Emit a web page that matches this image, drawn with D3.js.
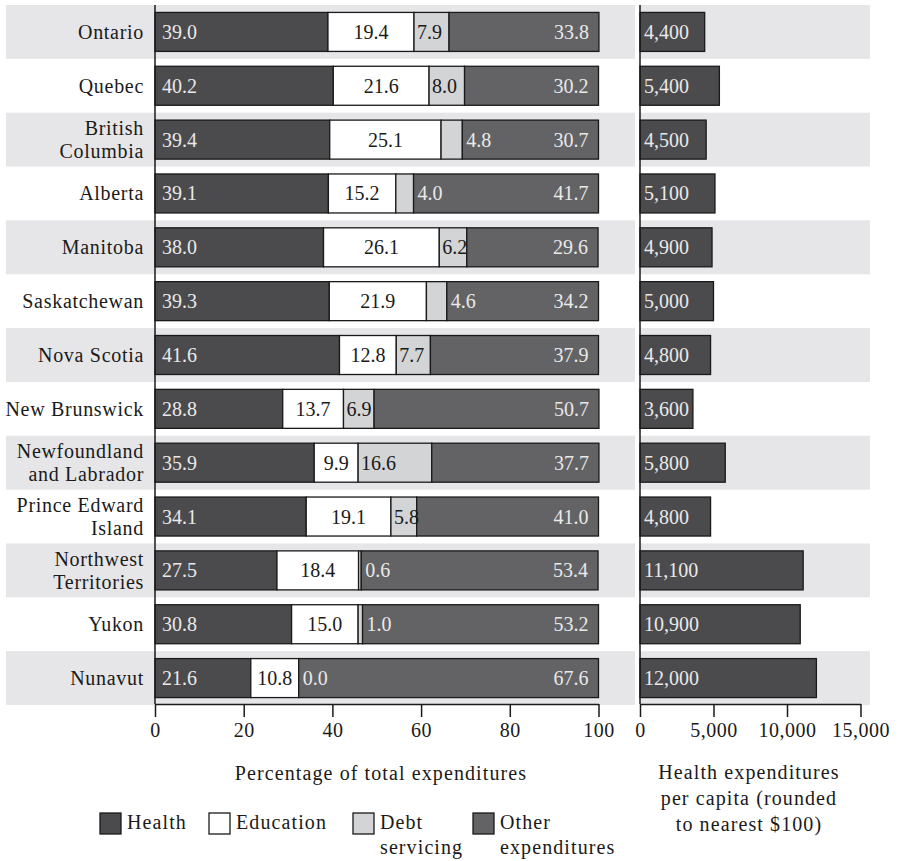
<!DOCTYPE html>
<html><head><meta charset="utf-8">
<script src="https://cdn.jsdelivr.net/npm/d3@7"></script>
<style>
body{margin:0;background:#fff}
svg text{font-family:"Liberation Serif","Times New Roman",serif;font-size:20px;fill:#1a1a1a}
svg text.word{letter-spacing:1.1px}
svg text.row{letter-spacing:0.7px}
svg .tick text{letter-spacing:0.5px}
</style></head><body>
<svg id="chart" width="898" height="861"></svg>
<script>
// Provincial spending shares (percent) and health spending per capita
const categories = ["Ontario","Quebec","British Columbia","Alberta","Manitoba","Saskatchewan","Nova Scotia","New Brunswick","Newfoundland and Labrador","Prince Edward Island","Northwest Territories","Yukon","Nunavut"];
const categoryLines = [["Ontario"],["Quebec"],["British","Columbia"],["Alberta"],["Manitoba"],["Saskatchewan"],["Nova Scotia"],["New Brunswick"],["Newfoundland","and Labrador"],["Prince Edward","Island"],["Northwest","Territories"],["Yukon"],["Nunavut"]];
const health    = [39.0,40.2,39.4,39.1,38.0,39.3,41.6,28.8,35.9,34.1,27.5,30.8,21.6];
const education = [19.4,21.6,25.1,15.2,26.1,21.9,12.8,13.7,9.9,19.1,18.4,15.0,10.8];
const debt      = [7.9,8.0,4.8,4.0,6.2,4.6,7.7,6.9,16.6,5.8,0.6,1.0,0.0];
const other     = [33.8,30.2,30.7,41.7,29.6,34.2,37.9,50.7,37.7,41.0,53.4,53.2,67.6];
const perCapita = [4400,5400,4500,5100,4900,5000,4800,3600,5800,4800,11100,10900,12000];
const pctTicks = [0,20,40,60,80,100];
const capTicks = [0,5000,10000,15000];
const seriesKeys = ["Health","Education","Debt servicing","Other expenditures"];
const legendLines = [["Health"],["Education"],["Debt","servicing"],["Other","expenditures"]];

const colors = {"Health":"#4b4b4d","Education":"#ffffff","Debt servicing":"#d3d4d6","Other expenditures":"#636365"};
const bandFill = "#e6e6e8";
const ink = "#1a1a1a", lightInk = "#e9e9e9";

const svg = d3.select("#chart");
const rows = categories.map((c,i)=>({name:c, lines:categoryLines[i],
  "Health":health[i],"Education":education[i],"Debt servicing":debt[i],"Other expenditures":other[i],
  perCapita:perCapita[i]}));

const y = d3.scaleBand().domain(categories).range([5,705]).paddingInner(0);
const barH = 39;
const x = d3.scaleLinear().domain([0,100]).range([155,598.5]);
const x2 = d3.scaleLinear().domain([0,15000]).range([640,860.5]);
const axisY = 704;

// alternating row shading
const shaded = rows.filter((d,i)=>i%2===0);
svg.append("g").selectAll("rect").data(shaded).join("rect")
  .attr("x",6).attr("width",629).attr("y",d=>y(d.name)).attr("height",y.step())
  .attr("fill",bandFill);
svg.append("g").selectAll("rect").data(shaded).join("rect")
  .attr("x",640).attr("width",230).attr("y",d=>y(d.name)).attr("height",y.step())
  .attr("fill",bandFill);

// row labels
svg.append("g").selectAll("text").data(rows).join("text")
  .attr("class","row").attr("text-anchor","end")
  .each(function(d){
    const t=d3.select(this), n=d.lines.length, cy=y(d.name)+y.step()/2;
    d.lines.forEach((ln,k)=>{
      t.append("tspan").attr("x",144).attr("y",cy+(k-(n-1)/2)*23).attr("dy","0.35em").text(ln);
    });
  });

// stacked percentage bars
const stack = d3.stack().keys(seriesKeys)(rows);
const barOff = (y.step()-barH)/2;
const segG = svg.append("g");
stack.forEach(layer=>{
  segG.append("g").selectAll("rect").data(layer).join("rect")
    .attr("x",d=>x(d[0])).attr("width",d=>x(d[1])-x(d[0]))
    .attr("y",d=>y(d.data.name)+barOff).attr("height",barH)
    .attr("fill",colors[layer.key]).attr("stroke",ink).attr("stroke-width",1.3);
});

// segment value labels
const lblG = svg.append("g");
const midY = d=>y(d.data.name)+y.step()/2;
stack.forEach(layer=>{
  const key = layer.key;
  const outside = d => key==="Debt servicing" && d.data[key]<5;
  lblG.append("g").selectAll("text").data(layer).join("text")
    .attr("y",midY).attr("dy","0.35em")
    .attr("x",d=>{
      if(key==="Health") return x(d[0])+7;
      if(key==="Education") return (x(d[0])+x(d[1]))/2;
      if(key==="Debt servicing") return outside(d) ? x(d[1])+4 : x(d[0])+3;
      return x(d[1])-10;
    })
    .attr("text-anchor", key==="Education"?"middle":(key==="Other expenditures"?"end":"start"))
    .style("fill", d => (key==="Health"||key==="Other expenditures"||outside(d)) ? lightInk : ink)
    .text(d=>d3.format(".1f")(d.data[key]));
});

// per-capita bars
svg.append("g").selectAll("rect").data(rows).join("rect")
  .attr("x",x2(0)).attr("width",d=>x2(d.perCapita)-x2(0))
  .attr("y",d=>y(d.name)+barOff).attr("height",barH)
  .attr("fill",colors["Health"]).attr("stroke",ink).attr("stroke-width",1.3);
svg.append("g").selectAll("text").data(rows).join("text")
  .attr("x",x2(0)+4).attr("y",d=>y(d.name)+y.step()/2).attr("dy","0.35em")
  .style("fill",lightInk).text(d=>d3.format(",")(d.perCapita));

// axes
function styleAxis(g){
  g.selectAll("path,line").attr("stroke",ink).attr("stroke-width",1.5);
  g.selectAll("text").attr("font-family",null).attr("font-size",null).style("fill",ink);
}
svg.append("g").attr("transform",`translate(0,${axisY})`)
  .call(d3.axisBottom(x).tickValues(pctTicks).tickSize(13).tickSizeOuter(0).tickPadding(6).tickFormat(d3.format("d")))
  .call(styleAxis);
svg.append("g").attr("transform",`translate(0,${axisY})`)
  .call(d3.axisBottom(x2).tickValues(capTicks).tickSize(13).tickSizeOuter(0).tickPadding(6).tickFormat(d3.format(",")))
  .call(styleAxis);
svg.append("line").attr("x1",x(0)).attr("x2",x(0)).attr("y1",5).attr("y2",axisY)
  .attr("stroke",ink).attr("stroke-width",1.5);
svg.append("line").attr("x1",x2(0)).attr("x2",x2(0)).attr("y1",5).attr("y2",axisY)
  .attr("stroke",ink).attr("stroke-width",1.5);

// axis titles
svg.append("text").attr("class","word").attr("x",381).attr("y",780).attr("text-anchor","middle")
  .text("Percentage of total expenditures");
const t2 = svg.append("text").attr("class","word").attr("text-anchor","middle");
["Health expenditures","per capita (rounded","to nearest $100)"].forEach((s,k)=>
  t2.append("tspan").attr("x",749).attr("y",779+k*26).text(s));

// legend
const legX = [100,209,353,473];
const leg = svg.append("g").selectAll("g").data(seriesKeys).join("g")
  .attr("transform",(d,i)=>`translate(${legX[i]},813)`);
leg.append("rect").attr("width",21).attr("height",21)
  .attr("fill",d=>colors[d]).attr("stroke",ink).attr("stroke-width",1.3);
leg.append("text").attr("class","word").each(function(d,i){
  const t=d3.select(this);
  legendLines[i].forEach((ln,k)=>t.append("tspan").attr("x",27).attr("y",16+k*25).text(ln));
});
</script>
</body></html>
